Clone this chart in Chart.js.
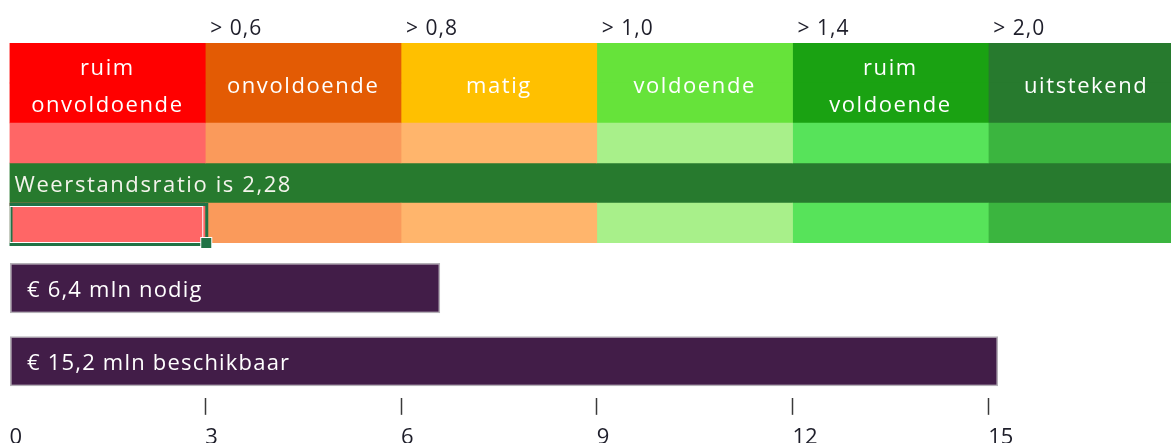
<!DOCTYPE html>
<html>
<head>
<meta charset="utf-8">
<script src="https://cdn.jsdelivr.net/npm/chart.js@4"></script>
<style>
    html, body { margin: 0; padding: 0; background: #fff; overflow: hidden; width: 1171px; height: 443px; }
    canvas { position: absolute; left: 0; }
    #schaal { top: 0; }
    #bedrag { top: 243px; }
</style>
</head>
<body>
<canvas id="schaal" width="1171" height="250"></canvas>
<canvas id="bedrag" width="1171" height="218"></canvas>
<script>
// klassen van de weerstandsratio
const klassen = ["ruim onvoldoende", "onvoldoende", "matig", "voldoende", "ruim voldoende", "uitstekend"];
const drempels = ["> 0,6", "> 0,8", "> 1,0", "> 1,4", "> 2,0"];
const klasseGrenzen = [0, 3, 6, 9, 12, 15, 18];
const ratioLabel = "Weerstandsratio is 2,28";

// benodigde en beschikbare weerstandscapaciteit
const bedragLabels = ["€ 6,4 mln nodig", "€ 15,2 mln beschikbaar"];
const bedragen = [6.6, 15.15];

const asTicks = [0, 3, 6, 9, 12, 15];
const asMax = 17.8;

const kleurDonker = ["#FF0000", "#E35B04", "#FFC000", "#66E33A", "#1AA212", "#277A2E"];
const kleurLicht = ["#FF6666", "#FA9A5B", "#FFB56C", "#A8F08A", "#57E35A", "#3BB53F"];
const ratioKleur = "#277A2E";
const paars = "#421D48";

const rijen = ["klasse", "klasse-2", "schaal", "ratio", "selectie"];
const FONT = "'Open Sans', 'DejaVu Sans', sans-serif";

Chart.defaults.font.family = FONT;

const datasets = klassen.map((k, i) => ({
    label: k,
    data: rijen.map((r) => (r === "ratio" ? null : [klasseGrenzen[i], klasseGrenzen[i + 1]])),
    backgroundColor: rijen.map((r) => (r.startsWith("klasse") ? kleurDonker[i] : kleurLicht[i])),
}));
datasets.push({
    label: ratioLabel,
    data: rijen.map((r) => (r === "ratio" ? [0, asMax] : null)),
    backgroundColor: ratioKleur,
});

function tekst(ctx, s, x, y, font, color, spacing, align) {
    ctx.save();
    ctx.font = font;
    ctx.fillStyle = color;
    ctx.textAlign = align || "left";
    ctx.textBaseline = "alphabetic";
    if ("letterSpacing" in ctx) ctx.letterSpacing = spacing + "px";
    ctx.fillText(s, x, y);
    ctx.restore();
}

const schaalTeksten = {
    id: "schaalTeksten",
    afterDatasetsDraw(chart) {
        const ctx = chart.ctx;
        const x = chart.scales.x;

        // drempelwaarden boven de balk
        drempels.forEach((d, i) => {
            tekst(ctx, d, x.getPixelForValue(klasseGrenzen[i + 1]) + 5, 35, "21px " + FONT, "#1E1E2A", 1);
        });

        // klassenamen in de bovenste rij
        klassen.forEach((k, i) => {
            const el = chart.getDatasetMeta(i).data[0];
            const cx = (el.x + el.base) / 2;
            const cy = el.y + el.height / 2;
            const regels = k.split(" ");
            regels.forEach((r, j) => {
                const y = cy + 10 + (j - (regels.length - 1) / 2) * 37;
                tekst(ctx, r, cx, y, "22px " + FONT, "#FFFFFF", 1.6, "center");
            });
        });

        // weerstandsratio
        const ratioEl = chart.getDatasetMeta(klassen.length).data[3];
        tekst(ctx, ratioLabel, ratioEl.base + 5, ratioEl.y + 9, "22px " + FONT, "#F4F4EC", 1.6);

        // geselecteerde cel
        const sel = chart.getDatasetMeta(0).data[4];
        const l = sel.base, r = sel.x;
        const t = sel.y - sel.height / 2, b = sel.y + sel.height / 2;
        ctx.save();
        ctx.strokeStyle = "#217346";
        ctx.lineWidth = 3;
        ctx.strokeRect(l + 1.5, t + 1.5, r - l, b - t);
        ctx.strokeStyle = "#FFFFFF";
        ctx.lineWidth = 1;
        ctx.strokeRect(l + 0.5, t + 3.5, r - l - 3, b - t - 4);
        ctx.fillStyle = "#FFFFFF";
        ctx.fillRect(r - 5, b - 6, 12, 12);
        ctx.fillStyle = "#217346";
        ctx.fillRect(r - 4, b - 5, 10, 10);
        ctx.restore();
    },
};

new Chart(document.getElementById("schaal"), {
    type: "bar",
    data: { labels: rijen, datasets },
    options: {
        indexAxis: "y",
        responsive: false,
        animation: false,
        devicePixelRatio: 1,
        layout: { padding: { left: 9.5, right: 0, top: 43, bottom: 7 } },
        datasets: { bar: { grouped: false, barPercentage: 1, categoryPercentage: 1, borderWidth: 0 } },
        scales: {
            x: { type: "linear", display: false, min: 0, max: asMax },
            y: { display: false },
        },
        plugins: { legend: { display: false }, tooltip: { enabled: false } },
    },
    plugins: [schaalTeksten],
});

const bedragTeksten = {
    id: "bedragTeksten",
    afterDatasetsDraw(chart) {
        chart.getDatasetMeta(0).data.forEach((el, i) => {
            tekst(chart.ctx, bedragLabels[i], el.base + 17, el.y + 9, "22px " + FONT, "#FFFFFF", 1.2);
        });
    },
};

new Chart(document.getElementById("bedrag"), {
    type: "bar",
    data: {
        labels: bedragLabels,
        datasets: [
            {
                data: bedragen,
                backgroundColor: paars,
                borderColor: "#B4B0B6",
                borderWidth: 1.5,
                borderSkipped: false,
                barPercentage: 0.685,
                categoryPercentage: 1,
            },
        ],
    },
    options: {
        indexAxis: "y",
        responsive: false,
        animation: false,
        devicePixelRatio: 1,
        layout: { padding: { left: 9.5, right: 0, top: 8.5, bottom: 0 } },
        scales: {
            x: {
                type: "linear",
                min: 0,
                max: asMax,
                afterBuildTicks: (scale) => {
                    scale.ticks = asTicks.map((v) => ({ value: v }));
                },
                border: { display: false },
                grid: {
                    drawOnChartArea: false,
                    drawTicks: true,
                    tickLength: 17,
                    tickWidth: 1.5,
                    tickColor: (c) => (c.tick && c.tick.value === 0 ? "rgba(0,0,0,0)" : "#3A3A3A"),
                },
                ticks: {
                    align: "start",
                    padding: 9,
                    color: "#1E1E2A",
                    font: { size: 22, lineHeight: 1.28 },
                    maxRotation: 0,
                    autoSkip: false,
                },
            },
            y: { display: false },
        },
        plugins: { legend: { display: false }, tooltip: { enabled: false } },
    },
    plugins: [bedragTeksten],
});
</script>
</body>
</html>
